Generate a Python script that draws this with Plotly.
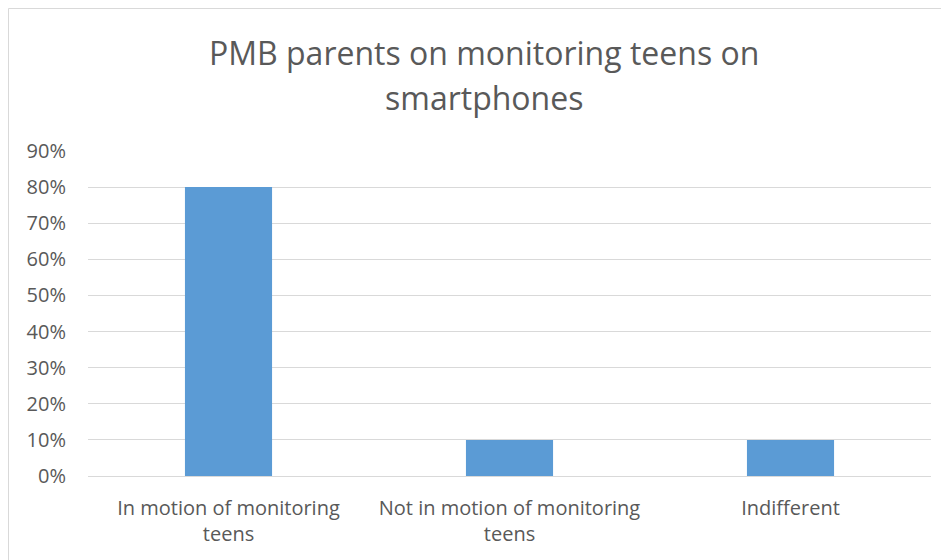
import plotly.graph_objects as go

categories = ["In motion of monitoring<br>teens", "Not in motion of monitoring<br>teens", "Indifferent"]
shares = [0.80, 0.10, 0.10]
tick_vals = [0, 0.1, 0.2, 0.3, 0.4, 0.5, 0.6, 0.7, 0.8, 0.9]
tick_text = ["0%", "10%", "20%", "30%", "40%", "50%", "60%", "70%", "80%", "90%"]
title_lines = ["PMB parents on monitoring teens on", "smartphones"]

gray = "#595959"
font_family = "'Open Sans', Lato, sans-serif"
W, H = 949, 560
ml, mr, mt, mb = 80, 26, 143, 92
pw, ph = W - ml - mr, H - mt - mb

fig = go.Figure(go.Bar(
    x=categories, y=shares,
    marker=dict(color="#5b9bd5", line=dict(width=0)),
    hovertemplate="%{x}: %{y:.0%}<extra></extra>",
))

# outer chart frame (only top and left edges fall inside the page)
fig.add_shape(type="rect", xref="paper", yref="paper",
              x0=(0.5 - ml) / pw, x1=(1000 - ml) / pw,
              y0=(mt + ph - 600) / ph, y1=(mt + ph - 0.5) / ph,
              line=dict(color="#d9d9d9", width=1), layer="below")

# two-line chart title
for text, ypix in zip(title_lines, [44, 89]):
    fig.add_annotation(text=text, xref="paper", yref="paper",
                       x=(476 - ml) / pw, y=(mt + ph - ypix) / ph,
                       xanchor="center", yanchor="middle", showarrow=False,
                       font=dict(family=font_family, size=32, color=gray))

fig.update_layout(
    width=W, height=H,
    margin=dict(l=ml, r=mr, t=mt, b=mb),
    paper_bgcolor="white", plot_bgcolor="white",
    bargap=0.69,
    showlegend=False,
    font=dict(family=font_family, size=20, color=gray),
)

fig.update_xaxes(showgrid=False, showline=False, ticks="", ticklabelstandoff=18,
                 tickfont=dict(size=20, color=gray))
fig.update_yaxes(range=[0, 0.9], tickvals=tick_vals, ticktext=tick_text,
                 showgrid=True, gridcolor="#d9d9d9", gridwidth=1,
                 zeroline=True, zerolinecolor="#d9d9d9", zerolinewidth=1,
                 showline=False, ticks="", ticklabelstandoff=21,
                 tickfont=dict(size=20, color=gray))

fig.write_html("out.html")
